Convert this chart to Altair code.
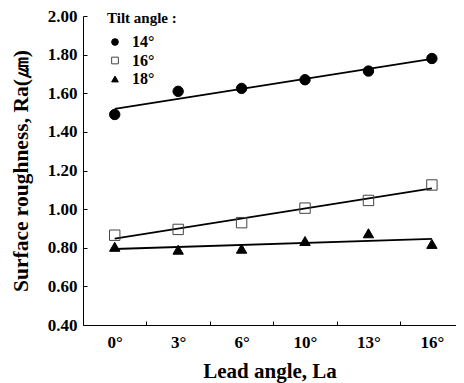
import json
import altair as alt
import pandas as pd

# Data
lead_labels = ["0°", "3°", "6°", "10°", "13°", "16°"]
tilt_labels = ["14°", "16°", "18°"]
ra_14 = [1.49, 1.61, 1.625, 1.67, 1.715, 1.78]
ra_16 = [0.865, 0.895, 0.93, 1.005, 1.045, 1.125]
ra_18 = [0.805, 0.79, 0.795, 0.835, 0.875, 0.82]
y_ticks = [0.4, 0.6, 0.8, 1.0, 1.2, 1.4, 1.6, 1.8, 2.0]

rows = []
for tilt, series in zip(tilt_labels, [ra_14, ra_16, ra_18]):
    for i, (lab, v) in enumerate(zip(lead_labels, series)):
        rows.append({"idx": i, "lead": lab, "tilt": tilt, "ra": v})
df = pd.DataFrame(rows)

W, H = 373, 309
FONT = "Liberation Serif"
label_expr = json.dumps(lead_labels) + "[datum.value]"
n = len(lead_labels)
band_edges = [i + 0.5 for i in range(n - 1)]

xscale = alt.Scale(domain=[-0.5, n - 0.62], nice=False, zero=False)
yscale = alt.Scale(domain=[0.4, 2.0], nice=False, zero=False)

base = alt.Chart(df)

lines = base.transform_regression("idx", "ra", groupby=["tilt"]).mark_line(
    color="black", strokeWidth=1.8
).encode(
    x=alt.X("idx:Q", scale=xscale, axis=alt.Axis(
        orient="bottom", values=list(range(n)), labelExpr=label_expr,
        title="Lead angle, La", grid=False, ticks=False, domainColor="black",
        domainWidth=1, labelFont=FONT, labelFontSize=17, labelFontWeight="bold",
        labelColor="black", labelPadding=9, titleFont=FONT, titleFontSize=21,
        titleFontWeight="bold", titleColor="black", titlePadding=10)),
    y=alt.Y("ra:Q", scale=yscale, axis=alt.Axis(
        orient="left", values=y_ticks, format=".2f",
        title="Surface roughness, Ra(㎛)", grid=False, ticks=False,
        domainColor="black", domainWidth=1, labelFont=FONT, labelFontSize=17,
        labelFontWeight="bold", labelColor="black", labelPadding=6,
        titleFont=FONT, titleFontSize=21.5, titleFontWeight="bold",
        titleColor="black", titlePadding=15)),
    detail="tilt:N",
)

legend = alt.Legend(
    title="Tilt angle :", orient="none", legendX=24, legendY=-5,
    titleFont=FONT, titleFontSize=15, titleFontWeight="bold", titleColor="black",
    titlePadding=8, labelFont=FONT, labelFontSize=16, labelFontWeight="bold",
    labelColor="black", labelOffset=9, symbolSize=45, symbolStrokeWidth=1,
    rowPadding=2.5, padding=0,
)

points = base.mark_point(size=108, strokeWidth=1, opacity=1).encode(
    x=alt.X("idx:Q", scale=xscale, axis=alt.Axis(
        orient="top", offset=-H, values=band_edges, labels=False, domain=False,
        grid=False, ticks=True, tickSize=4, tickColor="black", title=None)),
    y=alt.Y("ra:Q", scale=yscale, axis=alt.Axis(
        orient="right", offset=-W, values=y_ticks, labels=False, domain=False,
        grid=False, ticks=True, tickSize=4, tickColor="black", title=None)),
    shape=alt.Shape("tilt:N", scale=alt.Scale(domain=tilt_labels,
                    range=["circle", "square", "triangle-up"]), legend=legend),
    fill=alt.Fill("tilt:N", scale=alt.Scale(domain=tilt_labels,
                  range=["black", "transparent", "black"]), legend=legend),
    stroke=alt.Stroke("tilt:N", scale=alt.Scale(domain=tilt_labels,
                      range=["black", "#444444", "black"]), legend=legend),
)

chart = alt.layer(lines, points).resolve_axis(
    x="independent", y="independent"
).properties(
    width=W, height=H,
    autosize=alt.AutoSizeParams(type="none"),
    padding={"left": 75, "top": 8, "right": 0, "bottom": 60},
    background="white",
).configure_view(stroke=None)

chart.save("out.html", embed_options={"renderer": "svg", "actions": False})
